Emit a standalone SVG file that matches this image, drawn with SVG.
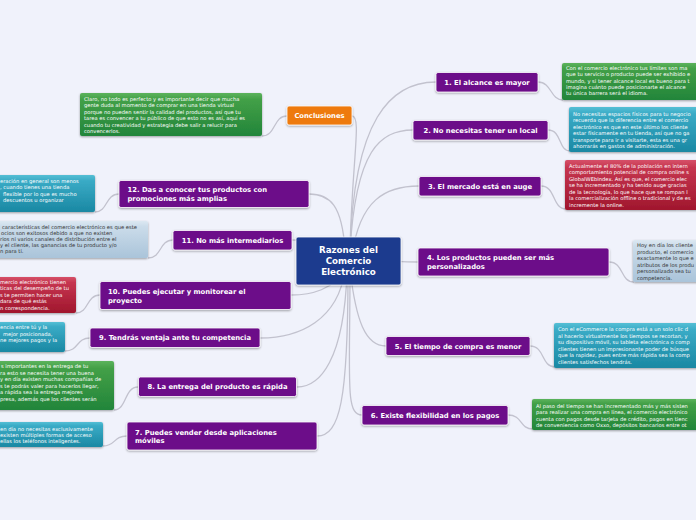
<svg xmlns="http://www.w3.org/2000/svg" width="696" height="520" viewBox="0 0 696 520">
<defs>
<filter id="sh" x="-10%" y="-20%" width="120%" height="150%"><feDropShadow dx="0" dy="1" stdDeviation="0.8" flood-color="#000" flood-opacity="0.35"/></filter>
<linearGradient id="gG" x1="0" y1="0" x2="0" y2="1"><stop offset="0" stop-color="#5cb35c"/><stop offset="0.15" stop-color="#43a047"/><stop offset="1" stop-color="#22853a"/></linearGradient>
<linearGradient id="gT" x1="0" y1="0" x2="0" y2="1"><stop offset="0" stop-color="#55bfd5"/><stop offset="0.15" stop-color="#3aabc6"/><stop offset="1" stop-color="#1a88a3"/></linearGradient>
<linearGradient id="gR" x1="0" y1="0" x2="0" y2="1"><stop offset="0" stop-color="#d65068"/><stop offset="0.15" stop-color="#c63650"/><stop offset="1" stop-color="#a0162d"/></linearGradient>
<linearGradient id="gB" x1="0" y1="0" x2="0" y2="1"><stop offset="0" stop-color="#dce8f2"/><stop offset="0.15" stop-color="#cbdcea"/><stop offset="1" stop-color="#aac4da"/></linearGradient>
<style>
.conn path{fill:none;stroke:#c2c2ce;stroke-width:1.3}
.topic rect{fill:#6c0a89;stroke:#fff;stroke-width:0.8;filter:url(#sh)}
.tt{font-family:"DejaVu Sans",Verdana,sans-serif;font-weight:bold;font-size:6.8px;fill:#fff}
.note rect{filter:url(#sh);rx:2px}
.nt{font-family:"DejaVu Sans",Verdana,sans-serif;font-size:5.2px;fill:#fff}
.nd{font-family:"DejaVu Sans",Verdana,sans-serif;font-size:5.2px;fill:#333}
</style>
</defs>
<rect width="696" height="520" fill="#f0f2fb"/>

<g id="connectors" class="conn">
<path d="M350,250 C354,120 390,82 436,82"/>
<path d="M350,250 C356,150 380,130 413,130"/>
<path d="M352,255 C360,200 385,186 419,186"/>
<path d="M350,261 C390,261 405,262 418,262"/>
<path d="M350,270 C356,320 365,346 386,346"/>
<path d="M350,270 C350,380 345,415 362,415"/>
<path d="M350,250 C352,160 362,116 352,116"/>
<path d="M345,250 C342,205 330,194 309,194"/>
<path d="M345,255 C335,242 310,240 292,240"/>
<path d="M345,268 C335,290 310,295 291,295"/>
<path d="M345,270 C338,320 300,338 260,338"/>
<path d="M347,272 C344,360 320,387 297,387"/>
<path d="M348,272 C348,400 340,436 317,436"/>
<path d="M538,82 C552,82 550,100 563,100"/>
<path d="M548,130 C562,130 558,151 570,151"/>
<path d="M541,186 C556,186 552,209 566,209"/>
<path d="M609,262 C624,262 620,282 634,282"/>
<path d="M530,346 C545,346 541,367 555,367"/>
<path d="M508,415 C523,415 519,429 533,429"/>
<path d="M119,194 C105,194 108,212 95,212"/>
<path d="M173,240 C159,240 162,258 148,258"/>
<path d="M100,295 C86,295 89,313 76,313"/>
<path d="M90,338 C76,338 79,351 65,351"/>
<path d="M138,387 C124,387 127,410 114,410"/>
<path d="M127,436 C113,436 116,446 103,446"/>
<path d="M287,116 C273,116 276,136 262,136"/>
</g>

<g id="center">
<rect x="296" y="237" width="105" height="48" rx="2" fill="#1c3b8e" stroke="#fff" stroke-width="0.8" filter="url(#sh)"/>
<text x="348.5" y="253" text-anchor="middle" font-family="DejaVu Sans, sans-serif" font-weight="bold" font-size="8.7" fill="#fff">Razones del</text>
<text x="348.5" y="264" text-anchor="middle" font-family="DejaVu Sans, sans-serif" font-weight="bold" font-size="8.7" fill="#fff">Comercio</text>
<text x="348.5" y="275" text-anchor="middle" font-family="DejaVu Sans, sans-serif" font-weight="bold" font-size="8.7" fill="#fff">Electrónico</text>
</g>

<g id="conclusiones">
<rect x="287" y="106" width="65" height="19" rx="2" fill="#ee7a0c" stroke="#fff" stroke-width="0.8" filter="url(#sh)"/>
<text class="tt" x="319.5" y="118" text-anchor="middle">Conclusiones</text>
</g>
<g id="note-conclusiones" class="note">
<rect x="80" y="93" width="182" height="43" fill="url(#gG)"/>
<text class="nt" x="84" y="100.5">Claro, no todo es perfecto y es importante decir que mucha</text>
<text class="nt" x="84" y="107">gente duda al momento de comprar en una tienda virtual</text>
<text class="nt" x="84" y="113.5">porque no pueden sentir la calidad del productos, así que tu</text>
<text class="nt" x="84" y="120">tarea es convencer a tu público de que esto no es así, aquí es</text>
<text class="nt" x="84" y="126.5">cuando tu creatividad y estrategia debe salir a relucir para</text>
<text class="nt" x="84" y="133">convencerlos.</text>
</g>

<g id="t1" class="topic"><rect x="436" y="72.5" width="102" height="19.5" rx="2"/><text class="tt" x="487" y="84.5" text-anchor="middle">1. El alcance es mayor</text></g>
<g id="t2" class="topic"><rect x="413" y="120.5" width="135" height="19.5" rx="2"/><text class="tt" x="480.5" y="132.5" text-anchor="middle">2. No necesitas tener un local</text></g>
<g id="t3" class="topic"><rect x="419" y="176.5" width="122" height="19.5" rx="2"/><text class="tt" x="480" y="188.5" text-anchor="middle">3. El mercado está en auge</text></g>
<g id="t4" class="topic"><rect x="418" y="248" width="191" height="28" rx="2"/><text class="tt" x="427" y="260">4. Los productos pueden ser más</text><text class="tt" x="427" y="268.5">personalizados</text></g>
<g id="t5" class="topic"><rect x="386" y="336.5" width="144" height="19" rx="2"/><text class="tt" x="458" y="348.5" text-anchor="middle">5. El tiempo de compra es menor</text></g>
<g id="t6" class="topic"><rect x="362" y="405.5" width="146" height="19.5" rx="2"/><text class="tt" x="435" y="417.5" text-anchor="middle">6. Existe flexibilidad en los pagos</text></g>
<g id="t7" class="topic"><rect x="127" y="422" width="190" height="28" rx="2"/><text class="tt" x="135" y="434.5">7. Puedes vender desde aplicaciones</text><text class="tt" x="135" y="443">móviles</text></g>
<g id="t8" class="topic"><rect x="138.5" y="377" width="158" height="19.5" rx="2"/><text class="tt" x="217.5" y="389" text-anchor="middle">8. La entrega del producto es rápida</text></g>
<g id="t9" class="topic"><rect x="90" y="328" width="170" height="19.5" rx="2"/><text class="tt" x="175" y="340" text-anchor="middle">9. Tendrás ventaja ante tu competencia</text></g>
<g id="t10" class="topic"><rect x="100" y="281.5" width="191" height="28" rx="2"/><text class="tt" x="108" y="294">10. Puedes ejecutar y monitorear el</text><text class="tt" x="108" y="302.5">proyecto</text></g>
<g id="t11" class="topic"><rect x="173" y="230.5" width="119" height="19.5" rx="2"/><text class="tt" x="232.5" y="242.5" text-anchor="middle">11. No más intermediarios</text></g>
<g id="t12" class="topic"><rect x="119" y="180.5" width="190" height="27" rx="2"/><text class="tt" x="127.5" y="192">12. Das a conocer tus productos con</text><text class="tt" x="127.5" y="200.5">promociones más amplias</text></g>

<g id="n1" class="note">
<rect x="562" y="63" width="150" height="37" fill="url(#gG)"/>
<text class="nt" x="566" y="70">Con el comercio electrónico tus límites son ma</text>
<text class="nt" x="566" y="76.3">que tu servicio o producto puede ser exhibido e</text>
<text class="nt" x="566" y="82.6">mundo, y si tener alcance local es bueno para t</text>
<text class="nt" x="566" y="88.9">imagina cuánto puede posicionarte el alcance</text>
<text class="nt" x="566" y="95.2">tu única barrera será el idioma.</text>
</g>
<g id="n2" class="note">
<rect x="569" y="107" width="140" height="45" fill="url(#gT)"/>
<text class="nt" x="573" y="115.5">No necesitas espacios físicos para tu negocio</text>
<text class="nt" x="573" y="122">recuerda que la diferencia entre el comercio</text>
<text class="nt" x="573" y="128.5">electrónico es que en este último los cliente</text>
<text class="nt" x="573" y="135">estar físicamente en tu tienda, así que no ga</text>
<text class="nt" x="573" y="141.5">transporte para ir a visitarte, esta es una gr</text>
<text class="nt" x="573" y="148">ahorrarás en gastos de administración.</text>
</g>
<g id="n3" class="note">
<rect x="565" y="160" width="145" height="50" fill="url(#gR)"/>
<text class="nt" x="569" y="167.5">Actualmente el 80% de la población en intern</text>
<text class="nt" x="569" y="174">comportamiento potencial de compra online s</text>
<text class="nt" x="569" y="180.5">GlobalWEbIndex. Así es que, el comercio elec</text>
<text class="nt" x="569" y="187">se ha incrementado y ha tenido auge gracias</text>
<text class="nt" x="569" y="193.5">de la tecnología, lo que hace que se rompan l</text>
<text class="nt" x="569" y="200">la comercialización offline o tradicional y de es</text>
<text class="nt" x="569" y="206.5">incremente la online.</text>
</g>
<g id="n4" class="note">
<rect x="633" y="240" width="80" height="42" fill="url(#gB)"/>
<text class="nd" x="637" y="247">Hoy en día los cliente</text>
<text class="nd" x="637" y="253.5">producto, el comercio</text>
<text class="nd" x="637" y="260">exactamente lo que e</text>
<text class="nd" x="637" y="266.5">atributos de los produ</text>
<text class="nd" x="637" y="273">personalizado sea tu</text>
<text class="nd" x="637" y="279.5">competencia.</text>
</g>
<g id="n5" class="note">
<rect x="554" y="323" width="160" height="45" fill="url(#gT)"/>
<text class="nt" x="558" y="331">Con el eCommerce la compra está a un solo clic d</text>
<text class="nt" x="558" y="337.5">al hacerlo virtualmente los tiempos se recortan, y</text>
<text class="nt" x="558" y="344">su dispositivo móvil, su tableta electrónica o comp</text>
<text class="nt" x="558" y="350.5">clientes tienen un impresionante poder de búsque</text>
<text class="nt" x="558" y="357">que la rapidez, pues entre más rápida sea la comp</text>
<text class="nt" x="558" y="363.5">clientes satisfechos tendrás.</text>
</g>
<g id="n6" class="note">
<rect x="532" y="399" width="180" height="31" fill="url(#gG)"/>
<text class="nt" x="536" y="407.5">Al paso del tiempo se han incrementado más y más sisten</text>
<text class="nt" x="536" y="414">para realizar una compra en línea, el comercio electrónico</text>
<text class="nt" x="536" y="420.5">cuenta con pagos desde tarjeta de crédito, pagos en tienc</text>
<text class="nt" x="536" y="427">de conveniencia como Oxxo, depósitos bancarios entre ot</text>
</g>

<g id="n12" class="note">
<rect x="-10" y="175" width="105" height="37" fill="url(#gT)"/>
<text class="nt" x="0" y="183">eración en general son menos</text>
<text class="nt" x="0" y="189.3">, cuando tienes una tienda</text>
<text class="nt" x="3" y="195.6">flexible por lo que es mucho</text>
<text class="nt" x="3" y="201.9">descuentos u organizar</text>
</g>
<g id="n11" class="note">
<rect x="-10" y="221" width="158" height="37" fill="url(#gB)"/>
<text class="nd" x="2" y="228.5">características del comercio electrónico es que este</text>
<text class="nd" x="1" y="234.5">ocios son exitosos debido a que no existen</text>
<text class="nd" x="0" y="240.5">rios ni varios canales de distribución entre el</text>
<text class="nd" x="0" y="246.5">y el cliente, las ganancias de tu producto y/o</text>
<text class="nd" x="0" y="252.5">n para ti.</text>
</g>
<g id="n10" class="note">
<rect x="-10" y="277" width="86" height="36" fill="url(#gR)"/>
<text class="nt" x="0" y="283.5">mercio electrónico tienen</text>
<text class="nt" x="0" y="290">ticas del desempeño de tu</text>
<text class="nt" x="0" y="296.5">s te permiten hacer una</text>
<text class="nt" x="0" y="303">dara de qué estás</text>
<text class="nt" x="0" y="309.5">n correspondencia.</text>
</g>
<g id="n9" class="note">
<rect x="-10" y="322" width="75" height="30" fill="url(#gT)"/>
<text class="nt" x="0" y="329">encia entre tú y la</text>
<text class="nt" x="3" y="335.5">mejor posicionada,</text>
<text class="nt" x="0" y="342">ne mejores pagos y la</text>
</g>
<g id="n8" class="note">
<rect x="-10" y="361" width="124" height="49" fill="url(#gG)"/>
<text class="nt" x="1" y="368">s importantes en la entrega de tu</text>
<text class="nt" x="0" y="374.5">ra esto se necesita tener una buena</text>
<text class="nt" x="0" y="381">y en día existen muchas compañías de</text>
<text class="nt" x="0" y="387.5">s te podrás valer para hacerlos llegar,</text>
<text class="nt" x="0" y="394">a rápida sea la entrega mejores</text>
<text class="nt" x="0" y="400.5">presa, además que los clientes serán</text>
</g>
<g id="n7" class="note">
<rect x="-10" y="422" width="113" height="25" fill="url(#gT)"/>
<text class="nt" x="0" y="430.5">en día no necesitas exclusivamente</text>
<text class="nt" x="0" y="436.5">existen múltiples formas de acceso</text>
<text class="nt" x="0" y="442.5">ellas los teléfonos inteligentes.</text>
</g>
</svg>
